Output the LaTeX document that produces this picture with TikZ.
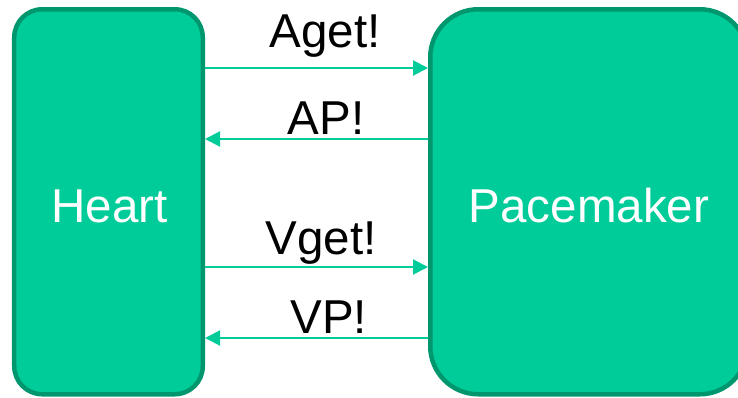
\documentclass[tikz,border=0pt]{standalone}
\usepackage{fontspec}
\setmainfont{Liberation Sans}
\usetikzlibrary{arrows.meta}
\definecolor{tealfill}{RGB}{0,204,153}
\definecolor{tealline}{RGB}{0,150,110}
\begin{document}
\begin{tikzpicture}[x=1bp,y=-1bp,
  box/.style={draw=tealline, fill=tealfill, line width=4.5bp, inner sep=0pt},
  lbl/.style={font=\fontsize{47.7}{57}\selectfont, anchor=base, inner sep=0pt},
  arr/.style={draw=tealfill, line width=2bp, -{Triangle[length=15bp,width=15bp]}}]
\useasboundingbox (0,0) rectangle (738,397);
\clip (0,0) rectangle (738,397);
\node[box, rounded corners=28bp, minimum width=188.5bp, minimum height=385bp] (heart) at (108.5,201.75) {};
\node[box, rounded corners=48bp, minimum width=317.5bp, minimum height=385bp] (pace) at (589,201.75) {};
\node[lbl, text=white] (heartlbl) at (109.7,222.3) {Heart};
\node[lbl, text=white] (pacelbl) at (589,222.3) {Pacemaker};
\coordinate (ya) at (0,68);
\coordinate (yb) at (0,139);
\coordinate (yc) at (0,267);
\coordinate (yd) at (0,338);
\draw[arr] (heart.east |- ya) -- (pace.west |- ya);
\draw[arr] (pace.west |- yb) -- (heart.east |- yb);
\draw[arr] (heart.east |- yc) -- (pace.west |- yc);
\draw[arr] (pace.west |- yd) -- (heart.east |- yd);
\node[lbl] (aget) at (325,47.7) {Aget!};
\node[lbl] (ap) at (326,134.3) {AP!};
\node[lbl] (vget) at (321,254.3) {Vget!};
\node[lbl] (vp) at (328.7,333.3) {VP!};
\end{tikzpicture}
\end{document}
